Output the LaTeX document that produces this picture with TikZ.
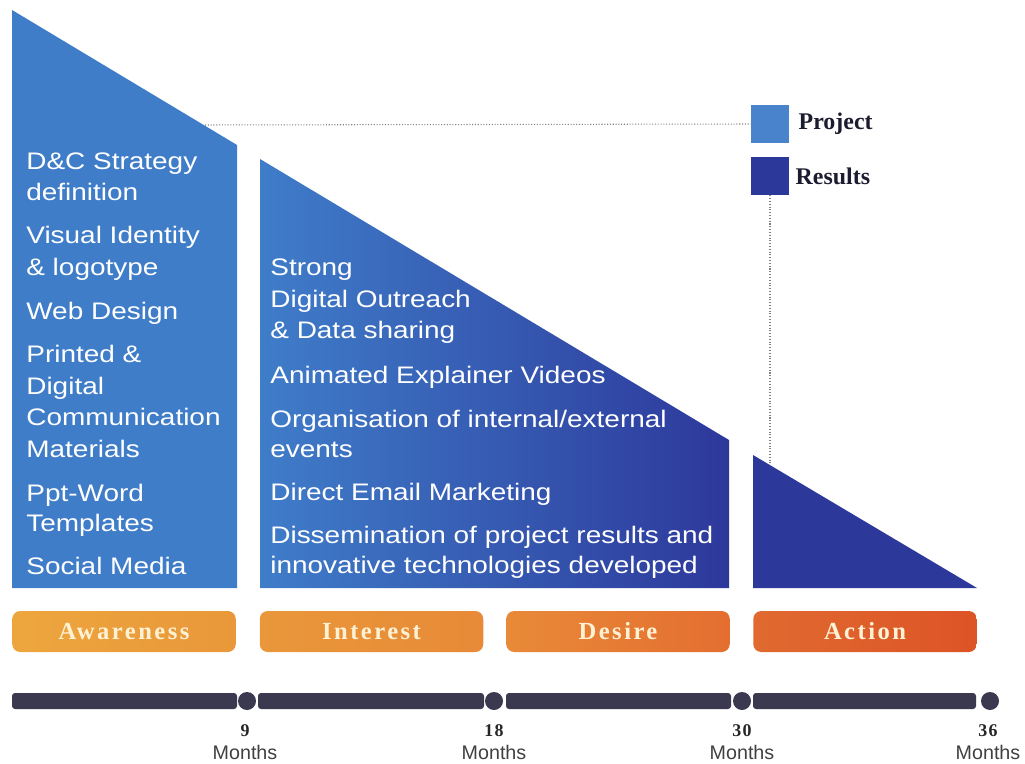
\documentclass[tikz,border=0pt]{standalone}
\usepackage{fontspec}
\setmainfont{Liberation Serif}
\newfontfamily\itemfont[FakeStretch=1.17]{Liberation Sans}
\newfontfamily\monthfont{Liberation Sans}
\newfontfamily\phasefont[LetterSpace=10]{Liberation Serif}
\usetikzlibrary{positioning}

\definecolor{projblue}{HTML}{3F7DC9}
\definecolor{resblue}{HTML}{2D389B}
\definecolor{barcol}{HTML}{3A394F}
\definecolor{phasetxt}{HTML}{FFF2D4}
\definecolor{legtxt}{HTML}{1C1C30}
% orange ramp of the phase boxes
\definecolor{orA}{HTML}{EDA63E}
\definecolor{orB}{HTML}{E9973A}
\definecolor{orC}{HTML}{E88A38}
\definecolor{orD}{HTML}{E57A32}
\definecolor{orE}{HTML}{E46E30}
\definecolor{orF}{HTML}{E06A30}
\definecolor{orG}{HTML}{DD5426}

\tikzset{
  item/.style={anchor=base west, inner sep=0pt, text=white,
    font=\itemfont\fontsize{13.6}{16}\selectfont},
  phase/.style={rounded corners=0.16cm, minimum width=4.47cm,
    minimum height=0.82cm, inner sep=0pt, text=phasetxt,
    font=\phasefont\bfseries\fontsize{14}{16}\selectfont},
  legbox/.style={minimum size=0.76cm, inner sep=0pt},
  legtext/.style={inner sep=0pt, text=legtxt,
    font=\bfseries\fontsize{13.6}{16}\selectfont},
  bar/.style={fill=barcol, rounded corners=0.06cm},
  dot/.style={circle, fill=barcol, minimum size=0.36cm, inner sep=0pt},
  monthnum/.style={inner sep=0pt, text=black!85,
    font=\bfseries\fontsize{10.2}{12}\selectfont\addfontfeature{LetterSpace=8}},
  monthlbl/.style={inner sep=0pt, text=black!75,
    font=\monthfont\fontsize{11.2}{13}\selectfont},
  guide/.style={gray, densely dotted, line width=0.6pt}
}

\begin{document}
\begin{tikzpicture}
  \useasboundingbox (0,0) rectangle (20.5,15.26);

  % funnel blocks along one falling slope
  \fill[projblue] (0.24,15.06) -- (4.74,12.36) -- (4.74,3.5) -- (0.24,3.5) -- cycle;
  \shade[left color=projblue, right color=resblue]
    (5.2,12.08) -- (14.58,6.46) -- (14.58,3.5) -- (5.2,3.5) -- cycle;
  \fill[resblue] (15.06,6.16) -- (19.54,3.5) -- (15.06,3.5) -- cycle;

  % legend
  \node[legbox, fill=projblue!95!white] (proj) at (15.4,12.78) {};
  \node[legbox, fill=resblue] (res) at (15.4,11.74) {};
  \node[legtext, anchor=west, right=0.18cm of proj] (projlbl) {Project};
  \node[legtext, anchor=west, right=0.12cm of res] (reslbl) {Results};
  \coordinate (slope1) at (4.1,12.76);
  \coordinate (slope3) at (15.38,6.0);
  \draw[guide] (slope1) -- (proj.west);
  \draw[guide] (res.south) -- (res.south |- slope3);

  % awareness items
  \node[item] (a1) at (0.52,11.86) {D\&C Strategy};
  \node[item] (a2) at (0.52,11.24) {definition};
  \node[item] (a3) at (0.52,10.38) {Visual Identity};
  \node[item] (a4) at (0.52,9.76) {\& logotype};
  \node[item] (a5) at (0.52,8.88) {Web Design};
  \node[item] (a6) at (0.52,8.02) {Printed \&};
  \node[item] (a7) at (0.52,7.38) {Digital};
  \node[item] (a8) at (0.52,6.76) {Communication};
  \node[item] (a9) at (0.52,6.12) {Materials};
  \node[item] (a10) at (0.52,5.24) {Ppt-Word};
  \node[item] (a11) at (0.52,4.64) {Templates};
  \node[item] (a12) at (0.52,3.78) {Social Media};

  % interest / desire items
  \node[item] (b1) at (5.4,9.76) {Strong};
  \node[item] (b2) at (5.4,9.12) {Digital Outreach};
  \node[item] (b3) at (5.4,8.50) {\& Data sharing};
  \node[item] (b4) at (5.4,7.60) {Animated Explainer Videos};
  \node[item] (b5) at (5.4,6.72) {Organisation of internal/external};
  \node[item] (b6) at (5.4,6.12) {events};
  \node[item] (b7) at (5.4,5.26) {Direct Email Marketing};
  \node[item] (b8) at (5.4,4.40) {Dissemination of project results and};
  \node[item] (b9) at (5.4,3.80) {innovative technologies developed};

  % phases
  \node[phase, left color=orA, right color=orB] (aware) at (2.48,2.63) {Awareness};
  \node[phase, left color=orB, right color=orC] (inter) at (7.43,2.63) {Interest};
  \node[phase, left color=orC, right color=orE] (desire) at (12.36,2.63) {Desire};
  \node[phase, left color=orF, right color=orG] (action) at (17.3,2.63) {Action};

  % timeline
  \fill[bar] (0.24,1.08) rectangle (4.74,1.40);
  \fill[bar] (5.16,1.08) rectangle (9.68,1.40);
  \fill[bar] (10.12,1.08) rectangle (14.62,1.40);
  \fill[bar] (15.06,1.08) rectangle (19.52,1.40);
  \node[dot] (m9) at (4.94,1.24) {};
  \node[dot] (m18) at (9.88,1.24) {};
  \node[dot] (m30) at (14.84,1.24) {};
  \node[dot] (m36) at (19.8,1.24) {};

  \node[monthnum] (n9) at (4.9,0.64) {9};
  \node[monthnum] (n18) at (9.88,0.64) {18};
  \node[monthnum] (n30) at (14.84,0.64) {30};
  \node[monthnum] (n36) at (19.76,0.64) {36};
  \node[monthlbl] (t9) at (4.9,0.22) {Months};
  \node[monthlbl] (t18) at (9.88,0.22) {Months};
  \node[monthlbl] (t30) at (14.84,0.22) {Months};
  \node[monthlbl] (t36) at (19.76,0.22) {Months};
\end{tikzpicture}
\end{document}
